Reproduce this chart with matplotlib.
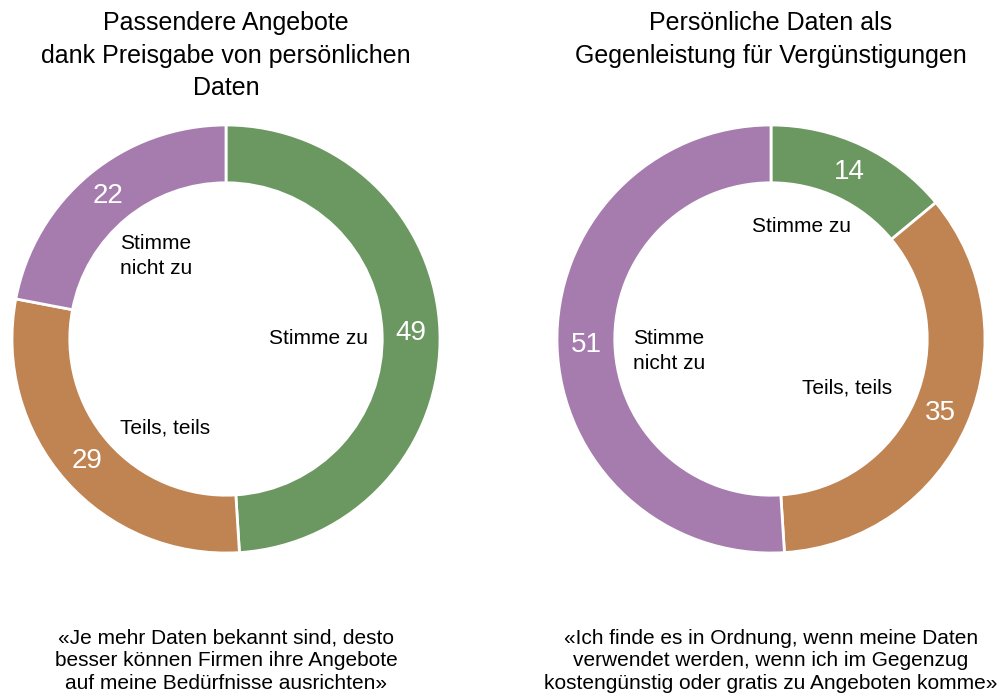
import matplotlib
matplotlib.use("Agg")
from matplotlib import pyplot as plt

# Umfrage-Daten (in Prozent)
categories = ["Stimme zu", "Teils, teils", "Stimme nicht zu"]
left_values = [49, 29, 22]
right_values = [14, 35, 51]
colors = ["#6b9761", "#c08352", "#a67cae"]

left_title = "Passendere Angebote\ndank Preisgabe von persönlichen\nDaten"
right_title = "Persönliche Daten als\nGegenleistung für Vergünstigungen"
left_quote = "«Je mehr Daten bekannt sind, desto\nbesser können Firmen ihre Angebote\nauf meine Bedürfnisse ausrichten»"
right_quote = "«Ich finde es in Ordnung, wenn meine Daten\nverwendet werden, wenn ich im Gegenzug\nkostengünstig oder gratis zu Angeboten komme»"

plt.rcParams['font.family'] = ['Liberation Sans', 'DejaVu Sans']

W, H = 1000, 695
fig = plt.figure(figsize=(W / 100, H / 100), dpi=100)
R = 214


def make_ax(cx, cy):
    ax = fig.add_axes([(cx - R) / W, (H - cy - R) / H, 2 * R / W, 2 * R / H])
    ax.set_xlim(-1, 1)
    ax.set_ylim(-1, 1)
    ax.set_aspect('equal')
    ax.axis('off')
    return ax


def donut(ax, values):
    ax.pie(values, colors=colors, startangle=90, counterclock=False, radius=1,
           wedgeprops=dict(width=0.27, edgecolor='white', linewidth=2),
           labels=[str(v) for v in values], labeldistance=0.865,
           textprops=dict(color='white', fontsize=20, ha='center', va='center'))
    ax.set_xlim(-1, 1)
    ax.set_ylim(-1, 1)


def px(cx, cy, x, y):
    return (x - cx) / R, (cy - y) / R


# linker Ring
cxl, cyl = 226, 339
axl = make_ax(cxl, cyl)
donut(axl, left_values)
axl.text(*px(cxl, cyl, 269, 339), "Stimme zu", fontsize=15, ha='left', va='center')
axl.text(*px(cxl, cyl, 120, 256), "Stimme\nnicht zu", fontsize=15, ha='left', va='center', linespacing=1.35)
axl.text(*px(cxl, cyl, 120, 428), "Teils, teils", fontsize=15, ha='left', va='center')

# rechter Ring
cxr, cyr = 771, 339
axr = make_ax(cxr, cyr)
donut(axr, right_values)
axr.text(*px(cxr, cyr, 752, 226), "Stimme zu", fontsize=15, ha='left', va='center')
axr.text(*px(cxr, cyr, 633, 351), "Stimme\nnicht zu", fontsize=15, ha='left', va='center', linespacing=1.35)
axr.text(*px(cxr, cyr, 802, 388), "Teils, teils", fontsize=15, ha='left', va='center')

# Titel
fig.text(226 / W, 1 - 11 / H, left_title, ha='center', va='top', fontsize=18, linespacing=1.45)
fig.text(771 / W, 1 - 11 / H, right_title, ha='center', va='top', fontsize=18, linespacing=1.45)

# Zitate
fig.text(226 / W, 1 - 629 / H, left_quote, ha='center', va='top', fontsize=15,
         linespacing=1.22)
fig.text(771 / W, 1 - 629 / H, right_quote, ha='center', va='top', fontsize=15,
         linespacing=1.22)

plt.savefig("out.png", dpi=100)
